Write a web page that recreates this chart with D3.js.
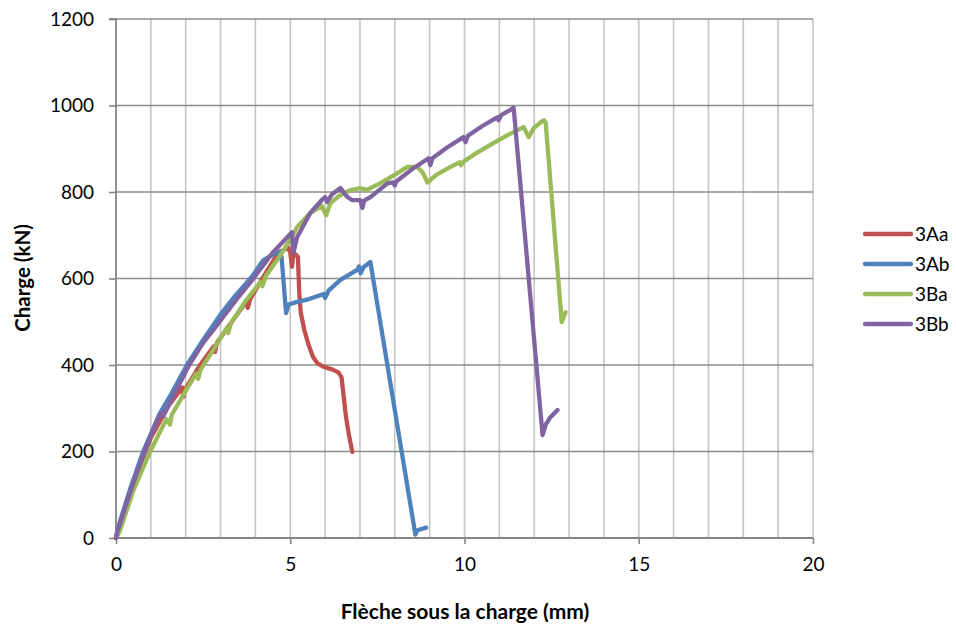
<!DOCTYPE html>
<html>
<head>
<meta charset="utf-8">
<script src="https://cdn.jsdelivr.net/npm/d3@7"></script>
<style>
  html, body { margin: 0; padding: 0; background: #fff; }
  svg { display: block; font-family: Lato, "Open Sans", sans-serif; }
</style>
</head>
<body>
<svg id="chart" width="956" height="627"></svg>
<script>
// Load–deflection curves, [deflection (mm), load (kN)]
const seriesNames = ["3Aa", "3Ab", "3Ba", "3Bb"];
const seriesColors = ["#C0504D", "#4F81BD", "#9BBB59", "#8064A2"];

const s3Aa = [
  [0,0],[0.1,22],[0.3,70],[0.6,150],[1.0,232],[1.5,305],[1.9,348],[1.93,326],[2.0,346],
  [2.4,398],[2.8,443],[2.84,430],[2.9,452],[3.3,497],[3.75,548],[3.78,532],[3.85,552],
  [4.2,600],[4.66,660],[4.94,671],[5.0,660],[5.05,627],[5.09,659],[5.15,656],[5.22,650],
  [5.26,565],[5.3,522],[5.4,482],[5.52,448],[5.65,419],[5.78,404],[5.95,396],[6.2,390],
  [6.38,383],[6.47,372],[6.53,330],[6.6,280],[6.68,240],[6.78,199]
];
const s3Ab = [
  [0,0],[0.05,22],[0.4,112],[0.78,200],[1.25,287],[1.6,335],[2.05,402],[2.5,458],
  [3.0,517],[3.4,558],[3.9,604],[4.22,642],[4.5,655],[4.71,662],[4.75,650],[4.82,580],
  [4.88,520],[4.95,540],[5.2,546],[5.48,551],[5.96,564],[6.0,555],[6.1,572],[6.44,597],
  [6.92,620],[6.97,628],[7.02,612],[7.1,626],[7.3,638],[8.59,8],[8.65,18],[8.9,24]
];
const s3Ba = [
  [0,0],[0.1,14],[0.5,110],[0.98,200],[1.45,275],[1.55,262],[1.6,285],[2.0,340],
  [2.3,380],[2.36,368],[2.42,388],[2.8,436],[3.18,486],[3.22,474],[3.3,497],[3.7,546],
  [4.15,592],[4.2,582],[4.3,606],[4.7,652],[5.0,690],[5.2,719],[5.57,751],[5.9,768],
  [6.03,746],[6.15,774],[6.4,791],[6.72,804],[7.0,809],[7.2,805],[7.6,821],[7.96,838],
  [8.36,858],[8.65,858],[8.8,845],[8.94,822],[9.2,840],[9.6,858],[9.87,869],[9.9,862],
  [10.0,872],[10.4,893],[10.83,913],[11.2,930],[11.7,950],[11.84,927],[11.98,947],
  [12.2,962],[12.28,966],[12.33,960],[12.79,499],[12.9,522]
];
const s3Bb = [
  [0,0],[0.05,18],[0.45,116],[0.82,200],[1.2,276],[1.32,290],[1.36,282],[1.5,306],
  [2.1,400],[2.5,451],[2.9,492],[3.0,503],[3.5,556],[3.95,601],[4.5,660],[5.05,707],
  [5.09,659],[5.2,696],[5.57,751],[5.9,781],[6.0,788],[6.06,777],[6.2,795],[6.44,809],
  [6.63,789],[6.78,781],[7.01,781],[7.07,763],[7.12,780],[7.3,788],[7.79,820],[7.96,822],
  [8.0,815],[8.05,825],[8.5,853],[8.97,878],[9.02,862],[9.08,878],[9.5,903],[9.97,927],
  [10.03,915],[10.1,930],[10.5,952],[10.95,973],[10.98,966],[11.05,978],[11.32,990],
  [11.41,995],[12.24,238],[12.33,262],[12.45,278],[12.67,296]
];
const seriesData = [s3Aa, s3Ab, s3Ba, s3Bb];

const xTicks = [0, 5, 10, 15, 20];
const yTicks = [0, 200, 400, 600, 800, 1000, 1200];
const xGrid = d3.range(1, 21);

const xTitle = "Flèche sous la charge (mm)";
const yTitle = "Charge (kN)";

const svg = d3.select("#chart");
const plot = { left: 116, right: 813, top: 19, bottom: 538 };

const x = d3.scaleLinear().domain([0, 20]).range([plot.left, plot.right]);
const y = d3.scaleLinear().domain([0, 1200]).range([plot.bottom, plot.top]);

// vertical gridlines (every mm)
svg.append("g").selectAll("line").data(xGrid).join("line")
  .attr("x1", d => x(d)).attr("x2", d => x(d))
  .attr("y1", plot.top).attr("y2", plot.bottom)
  .attr("stroke", "#c4c4c4").attr("stroke-width", 1.6);

// horizontal gridlines
svg.append("g").selectAll("line").data(yTicks.filter(d => d > 0)).join("line")
  .attr("x1", plot.left).attr("x2", plot.right)
  .attr("y1", d => y(d)).attr("y2", d => y(d))
  .attr("stroke", "#8c8c8c").attr("stroke-width", 1.6);

// axes
const yAxis = d3.axisLeft(y).tickValues(yTicks).tickFormat(d3.format("d"))
  .tickSize(7).tickPadding(15);
const xAxis = d3.axisBottom(x).tickValues(xTicks).tickFormat(d3.format("d"))
  .tickSize(6).tickPadding(14);

const gy = svg.append("g").attr("transform", `translate(${plot.left},0)`).call(yAxis);
const gx = svg.append("g").attr("transform", `translate(0,${plot.bottom})`).call(xAxis);

[gx, gy].forEach(g => {
  g.select(".domain").attr("stroke", "#868686").attr("stroke-width", 1.8);
  g.selectAll(".tick line").attr("stroke", "#868686").attr("stroke-width", 1.6);
  g.selectAll(".tick text")
    .attr("fill", "#000").style("font-size", "19px")
    .style("font-family", "Lato, 'Open Sans', sans-serif");
});
gy.select(".domain").attr("d", `M-7,${plot.top}H0V${plot.bottom}`);
gx.select(".domain").attr("d", `M${plot.left},0H${plot.right}`);

// curves
const line = d3.line().x(d => x(d[0])).y(d => y(d[1]));
svg.append("g").selectAll("path").data(seriesData).join("path")
  .attr("d", line)
  .attr("fill", "none")
  .attr("stroke", (d, i) => seriesColors[i])
  .attr("stroke-width", 4.3)
  .attr("stroke-linejoin", "round")
  .attr("stroke-linecap", "round");

// axis titles
svg.append("text")
  .attr("x", 465).attr("y", 619)
  .attr("text-anchor", "middle")
  .style("font-weight", "bold").style("font-size", "21px")
  .text(xTitle);

svg.append("text")
  .attr("transform", "translate(30,278) rotate(-90)")
  .attr("text-anchor", "middle")
  .style("font-weight", "bold").style("font-size", "20.5px")
  .text(yTitle);

// legend
const legend = svg.append("g").selectAll("g").data(seriesNames).join("g")
  .attr("transform", (d, i) => `translate(865,${234 + i * 30})`);
legend.append("line")
  .attr("x1", 0).attr("x2", 46).attr("y1", 0).attr("y2", 0)
  .attr("stroke", (d, i) => seriesColors[i])
  .attr("stroke-width", 4.3).attr("stroke-linecap", "round");
legend.append("text")
  .attr("x", 50).attr("y", 7)
  .style("font-size", "19px")
  .text(d => d);
</script>
</body>
</html>
